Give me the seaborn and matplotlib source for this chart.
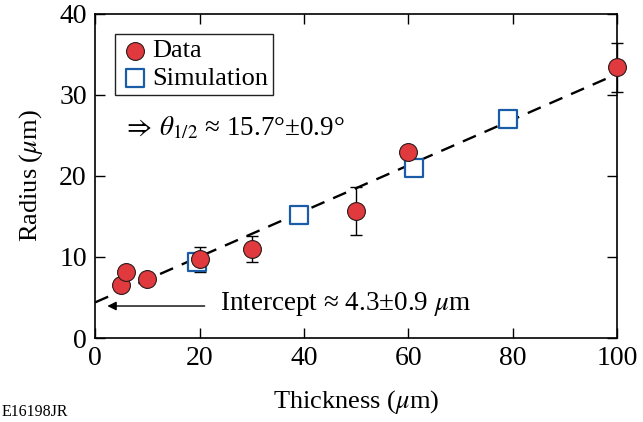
import numpy as np
import pandas as pd
import matplotlib
matplotlib.use("Agg")
import matplotlib.pyplot as plt
import seaborn as sns

# DATA
data_thickness = [5, 6, 10, 20, 30, 50, 60, 100]
data_radius = [6.5, 8.2, 7.3, 9.7, 11.0, 15.7, 22.9, 33.4]
data_err = [0, 0, 0, 1.5, 1.6, 3.0, 0, 3.0]

sim_thickness = [19.5, 39, 61, 79]
sim_radius = [9.4, 15.2, 21.0, 27.0]

fit_x = [0, 100]
fit_y = [4.4, 32.6]

sns.set_style("ticks")
plt.rcParams["font.family"] = ["Liberation Serif", "DejaVu Serif"]
plt.rcParams["mathtext.fontset"] = "stix"
plt.rcParams["text.color"] = "black"
plt.rcParams["axes.labelcolor"] = "black"

df_data = pd.DataFrame({"t": data_thickness, "r": data_radius, "e": data_err})
df_sim = pd.DataFrame({"t": sim_thickness, "r": sim_radius})
df_fit = pd.DataFrame({"t": fit_x, "r": fit_y})

fig = plt.figure(figsize=(6.43, 4.22), dpi=100)
ax = fig.add_axes([0.148, 0.199, 0.812, 0.768])

# fit line
sns.lineplot(data=df_fit, x="t", y="r", ax=ax, color="black", lw=1.7,
             linestyle=(0, (6, 4)), zorder=2)

# error bars
eb = df_data[df_data.e > 0]
_, caps, bars = ax.errorbar(eb.t, eb.r, yerr=eb.e, fmt="none", ecolor="black",
                            elinewidth=1, capsize=4, capthick=1, zorder=3)
for c in list(caps) + list(bars):
    c.set_clip_on(False)

sns.scatterplot(data=df_sim, x="t", y="r", ax=ax, marker="s", s=150,
                facecolor="white", edgecolor="#1a5ca8", linewidth=1.6,
                label="Simulation", zorder=4, clip_on=False)
sns.scatterplot(data=df_data, x="t", y="r", ax=ax, marker="o", s=165,
                color="#e03a3e", edgecolor="#2a1a1a", linewidth=0.8,
                label="Data", zorder=5, clip_on=False)

ax.set_xlim(0, 100)
ax.set_ylim(0, 40)
ax.set_xticks([0, 20, 40, 60, 80, 100])
ax.set_yticks([0, 10, 20, 30, 40])
ax.tick_params(direction="in", length=7, width=1, top=True, right=True,
               labelsize=20, pad=6, colors="black")
for s in ax.spines.values():
    s.set_linewidth(1.2)
    s.set_color("black")
ax.set_xlabel(r"Thickness ($\mu$m)", fontsize=19, labelpad=12)
ax.set_ylabel(r"Radius ($\mu$m)", fontsize=19, labelpad=10)

h, l = ax.get_legend_handles_labels()
leg = ax.legend(h[::-1], l[::-1], loc="upper left", fontsize=19, frameon=True,
                fancybox=False, edgecolor="#222222", handletextpad=0.1,
                borderpad=0.2, labelspacing=0.15, handlelength=1.1,
                borderaxespad=0.75, framealpha=1)
leg.get_frame().set_linewidth(1.0)

ax.text(5.3, 25.9, r"$\Rightarrow\,\theta_{1/2}$ ≈ 15.7°±0.9°", fontsize=19.5,
        va="center", ha="left")

ax.annotate("", xy=(1.8, 3.95), xytext=(21.5, 3.95),
            arrowprops=dict(arrowstyle="-|>", color="black", lw=1,
                            mutation_scale=13))
ax.text(24, 4.2, r"Intercept ≈ 4.3±0.9 $\mu$m", fontsize=19.5,
        va="center", ha="left")

fig.text(0.003, 0.005, "E16198JR", fontsize=11.5, ha="left", va="bottom")

fig.savefig("out.png", dpi=100)
